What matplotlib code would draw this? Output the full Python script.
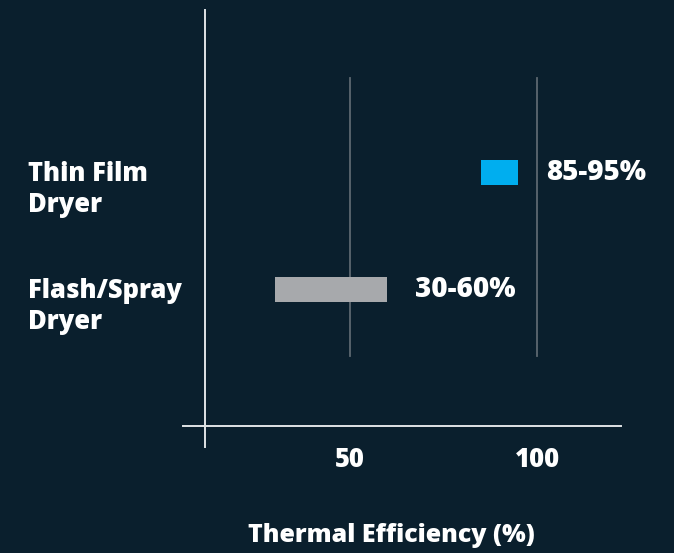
import matplotlib
matplotlib.use("Agg")
import matplotlib.pyplot as plt
import matplotlib.transforms as mtransforms

# dryer types and their thermal efficiency ranges (%)
dryers = ["Flash/Spray\nDryer", "Thin Film\nDryer"]
eff_low = [30, 85]
eff_high = [60, 95]
bar_colors = ["#a7a9ac", "#00aeef"]
range_labels = ["30-60%", "85-95%"]
ticks = [50, 100]

BG = "#0a1f2d"
W, H = 674, 553
WT = 800
plt.rcParams["font.family"] = ["Open Sans", "DejaVu Sans"]
plt.rcParams["font.weight"] = WT

fig = plt.figure(figsize=(W / 100, H / 100), dpi=100, facecolor=BG)
# axes box in pixels: left 183, right 621, bottom 426, top 10
ax = fig.add_axes([183 / W, (H - 426) / H, (621 - 183) / W, (426 - 10) / H])
ax.set_facecolor(BG)

ax.set_xlim(5.6, 122.4)
ax.set_ylim(-1.167, 2.389)

ypos = list(range(len(dryers)))
widths = [h - l for l, h in zip(eff_low, eff_high)]
ax.barh(ypos, widths, left=eff_low, height=0.214, color=bar_colors, zorder=3)

# vertical grid lines at the ticks
for t in ticks:
    ax.plot([t, t], [-0.568, 1.808], color="#5d6870", lw=1.3, zorder=1)

# y axis line, running a bit below the x axis
ax.plot([11.5, 11.5], [-1.346, 2.389], color="#dfe3e6", lw=1.4, clip_on=False, zorder=4)

for s in ["top", "right", "left"]:
    ax.spines[s].set_visible(False)
ax.spines["bottom"].set_color("#dfe3e6")
ax.spines["bottom"].set_linewidth(1.4)

ax.set_yticks([])
ax.set_xticks(ticks)
ax.set_xticklabels([str(t) for t in ticks], fontweight=WT)
ax.tick_params(axis="x", length=0, pad=15, labelsize=18.5, labelcolor="white")
ax.set_xlabel("Thermal Efficiency (%)", fontsize=18, color="white",
              fontweight=WT)
ax.xaxis.set_label_coords(0.476, -0.234)

# range labels next to each bar
for y, h, lab in zip(ypos, eff_high, range_labels):
    ax.annotate(lab, xy=(h, y), xytext=(28, 0), textcoords="offset pixels",
                ha="left", va="center", fontsize=20, color="white",
                fontweight=WT)

# category labels at the left edge of the figure
trans = mtransforms.blended_transform_factory(fig.transFigure, ax.transData)
for y, name in zip(ypos, dryers):
    ax.annotate(name, xy=(28 / W, y), xycoords=trans, xytext=(0, -17),
                textcoords="offset pixels", ha="left", va="center",
                fontsize=18.4, color="white", fontweight=WT,
                linespacing=1.22, annotation_clip=False)

fig.savefig("out.png", dpi=100, facecolor=BG)
